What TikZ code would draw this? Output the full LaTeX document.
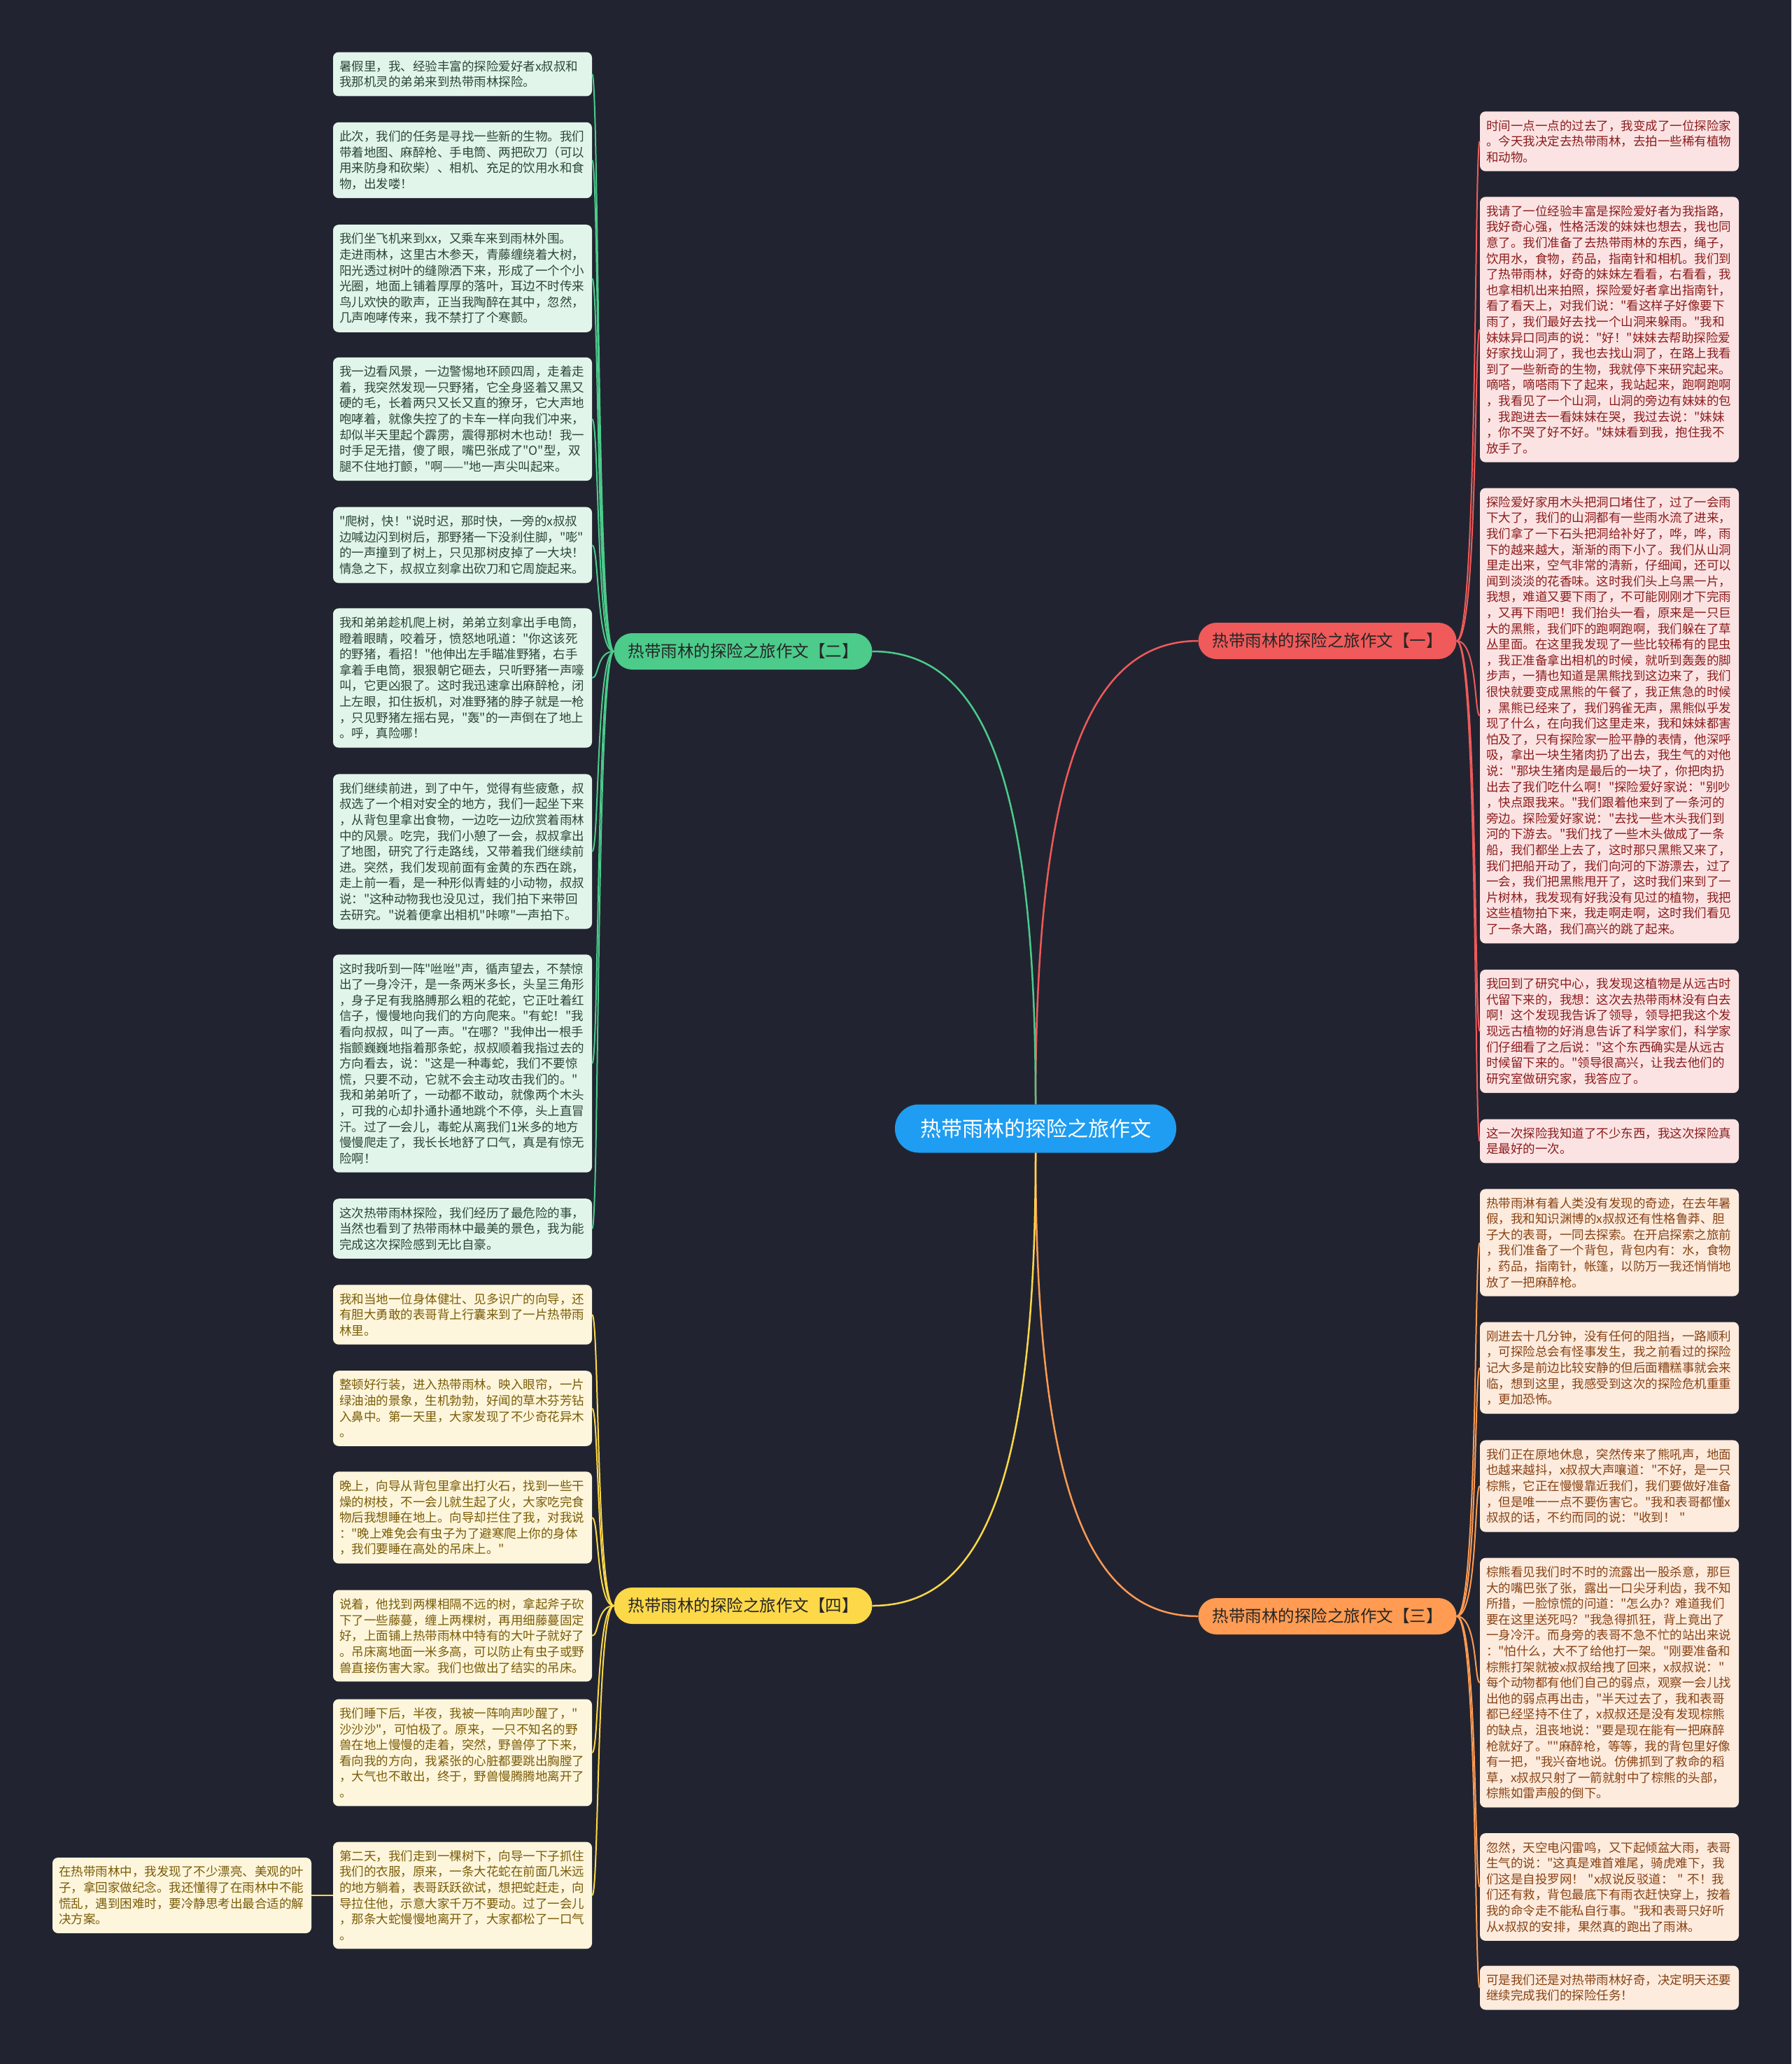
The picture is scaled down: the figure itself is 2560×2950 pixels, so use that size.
\documentclass[tikz,border=0pt]{standalone}
\usepackage{fontspec}
\setmainfont{Noto Sans CJK SC}[Ligatures=TeXOff]
\usetikzlibrary{calc}
\definecolor{bgc}{HTML}{212430}
\definecolor{rootc}{HTML}{1E9DF2}
\definecolor{gbr}{HTML}{4CCB8B}
\definecolor{gleafc}{HTML}{E2F5EA}
\definecolor{gtxt}{HTML}{2A4636}
\definecolor{rbr}{HTML}{F05A5A}
\definecolor{rleafc}{HTML}{FCE3E3}
\definecolor{rtxt}{HTML}{8A1C1C}
\definecolor{ybr}{HTML}{FDD849}
\definecolor{yleafc}{HTML}{FEF6DC}
\definecolor{ytxt}{HTML}{7A5C08}
\definecolor{obr}{HTML}{FF9B52}
\definecolor{oleafc}{HTML}{FDEBDD}
\definecolor{otxt}{HTML}{874214}
\definecolor{brtxt}{HTML}{262626}
\newcommand\boxfont{\fontsize{17.5pt}{22.6pt}\selectfont}
\newcommand\branchfont{\fontsize{23.5pt}{28pt}\selectfont}
\newcommand\rootfont{\fontsize{30pt}{36pt}\selectfont}
\tikzset{
  leaf/.style={rounded corners=8pt, inner xsep=9pt, inner ysep=12pt, text width=352pt, align=left, font=\boxfont},
  gleaf/.style={leaf, fill=gleafc, text=gtxt},
  rleaf/.style={leaf, fill=rleafc, text=rtxt},
  yleaf/.style={leaf, fill=yleafc, text=ytxt},
  oleaf/.style={leaf, fill=oleafc, text=otxt},
  branch/.style={rounded corners=26pt, minimum width=369pt, minimum height=52pt, inner sep=0pt, font=\branchfont, text=brtxt},
  rootnode/.style={rounded corners=34pt, minimum width=402pt, minimum height=69pt, inner sep=0pt, font=\rootfont, text=white, fill=rootc},
  mainline/.style={line width=2.5pt},
  subline/.style={line width=2pt},
}
\begin{document}
\begin{tikzpicture}[x=1pt,y=-1pt]
\fill[bgc] (0,0) rectangle (2560,2950);
\useasboundingbox (0,0) rectangle (2560,2950);

% root and branches
\node[rootnode] (c) at (1480,1613) {热带雨林的探险之旅作文};
\node[branch, fill=rbr] (b1) at (1897,916) {热带雨林的探险之旅作文【一】};
\node[branch, fill=gbr] (b2) at (1062,931) {热带雨林的探险之旅作文【二】};
\node[branch, fill=obr] (b3) at (1897,2310) {热带雨林的探险之旅作文【三】};
\node[branch, fill=ybr] (b4) at (1062,2295) {热带雨林的探险之旅作文【四】};

% green leaves
\node[gleaf] (g1) at (661,106) {暑假里，我、经验丰富的探险爱好者x叔叔和\\我那机灵的弟弟来到热带雨林探险。};
\node[gleaf] (g2) at (661,229) {此次，我们的任务是寻找一些新的生物。我们\\带着地图、麻醉枪、手电筒、两把砍刀（可以\\用来防身和砍柴）、相机、充足的饮用水和食\\物，出发喽！};
\node[gleaf] (g3) at (661,398) {我们坐飞机来到xx，又乘车来到雨林外围。\\走进雨林，这里古木参天，青藤缠绕着大树，\\阳光透过树叶的缝隙洒下来，形成了一个个小\\光圈，地面上铺着厚厚的落叶，耳边不时传来\\鸟儿欢快的歌声，正当我陶醉在其中，忽然，\\几声咆哮传来，我不禁打了个寒颤。};
\node[gleaf] (g4) at (661,599) {我一边看风景，一边警惕地环顾四周，走着走\\着，我突然发现一只野猪，它全身竖着又黑又\\硬的毛，长着两只又长又直的獠牙，它大声地\\咆哮着，就像失控了的卡车一样向我们冲来，\\却似半天里起个霹雳，震得那树木也动！我一\\时手足无措，傻了眼，嘴巴张成了"O"型，双\\腿不住地打颤，"啊——"地一声尖叫起来。};
\node[gleaf] (g5) at (661,779) {"爬树，快！"说时迟，那时快，一旁的x叔叔\\边喊边闪到树后，那野猪一下没刹住脚，"嘭"\\的一声撞到了树上，只见那树皮掉了一大块！\\情急之下，叔叔立刻拿出砍刀和它周旋起来。};
\node[gleaf] (g6) at (661,969) {我和弟弟趁机爬上树，弟弟立刻拿出手电筒，\\瞪着眼睛，咬着牙，愤怒地吼道："你这该死\\的野猪，看招！"他伸出左手瞄准野猪，右手\\拿着手电筒，狠狠朝它砸去，只听野猪一声嚎\\叫，它更凶狠了。这时我迅速拿出麻醉枪，闭\\上左眼，扣住扳机，对准野猪的脖子就是一枪\\，只见野猪左摇右晃，"轰"的一声倒在了地上\\。呼，真险哪！};
\node[gleaf] (g7) at (661,1217) {我们继续前进，到了中午，觉得有些疲惫，叔\\叔选了一个相对安全的地方，我们一起坐下来\\，从背包里拿出食物，一边吃一边欣赏着雨林\\中的风景。吃完，我们小憩了一会，叔叔拿出\\了地图，研究了行走路线，又带着我们继续前\\进。突然，我们发现前面有金黄的东西在跳，\\走上前一看，是一种形似青蛙的小动物，叔叔\\说："这种动物我也没见过，我们拍下来带回\\去研究。"说着便拿出相机"咔嚓"一声拍下。};
\node[gleaf] (g8) at (661,1520) {这时我听到一阵"咝咝"声，循声望去，不禁惊\\出了一身冷汗，是一条两米多长，头呈三角形\\，身子足有我胳膊那么粗的花蛇，它正吐着红\\信子，慢慢地向我们的方向爬来。"有蛇！"我\\看向叔叔，叫了一声。"在哪？"我伸出一根手\\指颤巍巍地指着那条蛇，叔叔顺着我指过去的\\方向看去，说："这是一种毒蛇，我们不要惊\\慌，只要不动，它就不会主动攻击我们的。"\\我和弟弟听了，一动都不敢动，就像两个木头\\，可我的心却扑通扑通地跳个不停，头上直冒\\汗。过了一会儿，毒蛇从离我们1米多的地方\\慢慢爬走了，我长长地舒了口气，真是有惊无\\险啊！};
\node[gleaf] (g9) at (661,1756) {这次热带雨林探险，我们经历了最危险的事，\\当然也看到了热带雨林中最美的景色，我为能\\完成这次探险感到无比自豪。};

% yellow leaves
\node[yleaf] (y1) at (661,1879) {我和当地一位身体健壮、见多识广的向导，还\\有胆大勇敢的表哥背上行囊来到了一片热带雨\\林里。};
\node[yleaf] (y2) at (661,2013) {整顿好行装，进入热带雨林。映入眼帘，一片\\绿油油的景象，生机勃勃，好闻的草木芬芳钻\\入鼻中。第一天里，大家发现了不少奇花异木\\。};
\node[yleaf] (y3) at (661,2169) {晚上，向导从背包里拿出打火石，找到一些干\\燥的树枝，不一会儿就生起了火，大家吃完食\\物后我想睡在地上。向导却拦住了我，对我说\\："晚上难免会有虫子为了避寒爬上你的身体\\，我们要睡在高处的吊床上。"};
\node[yleaf] (y4) at (661,2338) {说着，他找到两棵相隔不远的树，拿起斧子砍\\下了一些藤蔓，缠上两棵树，再用细藤蔓固定\\好，上面铺上热带雨林中特有的大叶子就好了\\。吊床离地面一米多高，可以防止有虫子或野\\兽直接伤害大家。我们也做出了结实的吊床。};
\node[yleaf] (y5) at (661,2505) {我们睡下后，半夜，我被一阵响声吵醒了，"\\沙沙沙"，可怕极了。原来，一只不知名的野\\兽在地上慢慢的走着，突然，野兽停了下来，\\看向我的方向，我紧张的心脏都要跳出胸膛了\\，大气也不敢出，终于，野兽慢腾腾地离开了\\。};
\node[yleaf] (y6) at (661,2709) {第二天，我们走到一棵树下，向导一下子抓住\\我们的衣服，原来，一条大花蛇在前面几米远\\的地方躺着，表哥跃跃欲试，想把蛇赶走，向\\导拉住他，示意大家千万不要动。过了一会儿\\，那条大蛇慢慢地离开了，大家都松了一口气\\。};
\node[yleaf] (y7) at (260,2709) {在热带雨林中，我发现了不少漂亮、美观的叶\\子，拿回家做纪念。我还懂得了在雨林中不能\\慌乱，遇到困难时，要冷静思考出最合适的解\\决方案。};

% red leaves
\node[rleaf] (r1) at (2300,202) {时间一点一点的过去了，我变成了一位探险家\\。今天我决定去热带雨林，去拍一些稀有植物\\和动物。};
\node[rleaf] (r2) at (2300,471) {我请了一位经验丰富是探险爱好者为我指路，\\我好奇心强，性格活泼的妹妹也想去，我也同\\意了。我们准备了去热带雨林的东西，绳子，\\饮用水，食物，药品，指南针和相机。我们到\\了热带雨林，好奇的妹妹左看看，右看看，我\\也拿相机出来拍照，探险爱好者拿出指南针，\\看了看天上，对我们说："看这样子好像要下\\雨了，我们最好去找一个山洞来躲雨。"我和\\妹妹异口同声的说："好！"妹妹去帮助探险爱\\好家找山洞了，我也去找山洞了，在路上我看\\到了一些新奇的生物，我就停下来研究起来。\\嘀嗒，嘀嗒雨下了起来，我站起来，跑啊跑啊\\，我看见了一个山洞，山洞的旁边有妹妹的包\\，我跑进去一看妹妹在哭，我过去说："妹妹\\，你不哭了好不好。"妹妹看到我，抱住我不\\放手了。};
\node[rleaf] (r3) at (2300,1023) {探险爱好家用木头把洞口堵住了，过了一会雨\\下大了，我们的山洞都有一些雨水流了进来，\\我们拿了一下石头把洞给补好了，哗，哗，雨\\下的越来越大，渐渐的雨下小了。我们从山洞\\里走出来，空气非常的清新，仔细闻，还可以\\闻到淡淡的花香味。这时我们头上乌黑一片，\\我想，难道又要下雨了，不可能刚刚才下完雨\\，又再下雨吧！我们抬头一看，原来是一只巨\\大的黑熊，我们吓的跑啊跑啊，我们躲在了草\\丛里面。在这里我发现了一些比较稀有的昆虫\\，我正准备拿出相机的时候，就听到轰轰的脚\\步声，一猜也知道是黑熊找到这边来了，我们\\很快就要变成黑熊的午餐了，我正焦急的时候\\，黑熊已经来了，我们鸦雀无声，黑熊似乎发\\现了什么，在向我们这里走来，我和妹妹都害\\怕及了，只有探险家一脸平静的表情，他深呼\\吸，拿出一块生猪肉扔了出去，我生气的对他\\说："那块生猪肉是最后的一块了，你把肉扔\\出去了我们吃什么啊！"探险爱好家说："别吵\\，快点跟我来。"我们跟着他来到了一条河的\\旁边。探险爱好家说："去找一些木头我们到\\河的下游去。"我们找了一些木头做成了一条\\船，我们都坐上去了，这时那只黑熊又来了，\\我们把船开动了，我们向河的下游漂去，过了\\一会，我们把黑熊甩开了，这时我们来到了一\\片树林，我发现有好我没有见过的植物，我把\\这些植物拍下来，我走啊走啊，这时我们看见\\了一条大路，我们高兴的跳了起来。};
\node[rleaf] (r4) at (2300,1474) {我回到了研究中心，我发现这植物是从远古时\\代留下来的，我想：这次去热带雨林没有白去\\啊！这个发现我告诉了领导，领导把我这个发\\现远古植物的好消息告诉了科学家们，科学家\\们仔细看了之后说："这个东西确实是从远古\\时候留下来的。"领导很高兴，让我去他们的\\研究室做研究家，我答应了。};
\node[rleaf] (r5) at (2300,1631) {这一次探险我知道了不少东西，我这次探险真\\是最好的一次。};

% orange leaves
\node[oleaf] (o1) at (2300,1776) {热带雨淋有着人类没有发现的奇迹，在去年暑\\假，我和知识渊博的x叔叔还有性格鲁莽、胆\\子大的表哥，一同去探索。在开启探索之旅前\\，我们准备了一个背包，背包内有：水，食物\\，药品，指南针，帐篷，以防万一我还悄悄地\\放了一把麻醉枪。};
\node[oleaf] (o2) at (2300,1955) {刚进去十几分钟，没有任何的阻挡，一路顺利\\，可探险总会有怪事发生，我之前看过的探险\\记大多是前边比较安静的但后面糟糕事就会来\\临，想到这里，我感受到这次的探险危机重重\\，更加恐怖。};
\node[oleaf] (o3) at (2300,2124) {我们正在原地休息，突然传来了熊吼声，地面\\也越来越抖，x叔叔大声嚷道："不好，是一只\\棕熊，它正在慢慢靠近我们，我们要做好准备\\，但是唯一一点不要伤害它。"我和表哥都懂x\\叔叔的话，不约而同的说："收到！~"};
\node[oleaf] (o4) at (2300,2405) {棕熊看见我们时不时的流露出一股杀意，那巨\\大的嘴巴张了张，露出一口尖牙利齿，我不知\\所措，一脸惊慌的问道："怎么办？难道我们\\要在这里送死吗？"我急得抓狂，背上竟出了\\一身冷汗。而身旁的表哥不急不忙的站出来说\\："怕什么，大不了给他打一架。"刚要准备和\\棕熊打架就被x叔叔给拽了回来，x叔叔说："\\每个动物都有他们自己的弱点，观察一会儿找\\出他的弱点再出击，"半天过去了，我和表哥\\都已经坚持不住了，x叔叔还是没有发现棕熊\\的缺点，沮丧地说："要是现在能有一把麻醉\\枪就好了。""麻醉枪，等等，我的背包里好像\\有一把，"我兴奋地说。仿佛抓到了救命的稻\\草，x叔叔只射了一箭就射中了棕熊的头部，\\棕熊如雷声般的倒下。};
\node[oleaf] (o5) at (2300,2697) {忽然，天空电闪雷鸣，又下起倾盆大雨，表哥\\生气的说："这真是难首难尾，骑虎难下，我\\们这是自投罗网！~"x叔说反驳道：~"~不！我\\们还有救，背包最底下有雨衣赶快穿上，按着\\我的命令走不能私自行事。"我和表哥只好听\\从x叔叔的安排，果然真的跑出了雨淋。};
\node[oleaf] (o6) at (2300,2841) {可是我们还是对热带雨林好奇，决定明天还要\\继续完成我们的探险任务！};

% main connectors
\draw[mainline, rbr] (c.north) .. controls +(0,-480) and +(-154,0) .. (b1.west);
\draw[mainline, gbr] (c.north) .. controls +(0,-480) and +(154,0) .. (b2.east);
\draw[mainline, obr] (c.south) .. controls +(0,490) and +(-154,0) .. (b3.west);
\draw[mainline, ybr] (c.south) .. controls +(0,480) and +(154,0) .. (b4.east);

% child connectors
\foreach \n in {g1,g2,g3,g4,g5,g6,g7,g8,g9}
  \draw[subline, gbr] (b2.west) .. controls +(-25,0) and +(10,0) .. (\n.east);
\foreach \n in {y1,y2,y3,y4,y5,y6}
  \draw[subline, ybr] (b4.west) .. controls +(-25,0) and +(10,0) .. (\n.east);
\draw[subline, ybr] (y6.west) -- (y7.east);
\foreach \n in {r1,r2,r3,r4,r5}
  \draw[subline, rbr] (b1.east) .. controls +(30,0) and +(-8,0) .. (\n.west);
\foreach \n in {o1,o2,o3,o4,o5,o6}
  \draw[subline, obr] (b3.east) .. controls +(30,0) and +(-8,0) .. (\n.west);
\end{tikzpicture}
\end{document}
